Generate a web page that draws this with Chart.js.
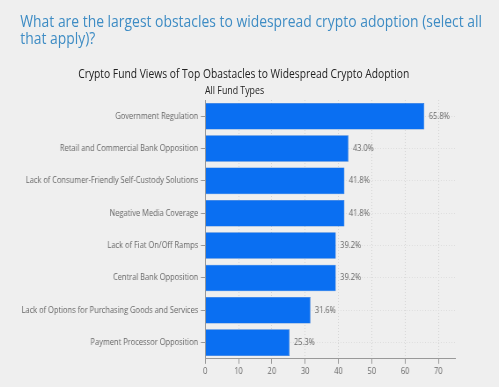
<!DOCTYPE html>
<html>
<head>
<meta charset="utf-8">
<script src="https://cdn.jsdelivr.net/npm/chart.js@4.4.0/dist/chart.umd.min.js"></script>
<style>
  html, body { margin: 0; padding: 0; background: #efefef; overflow: hidden; }
  /* the reference is squeezed horizontally, so draw wider and scale down */
  #wrap { position: relative; width: 567px; height: 387px; overflow: hidden; font-family: "Open Sans", sans-serif;
          transform: scaleX(0.88); transform-origin: 0 0; }
  #question { position: absolute; left: 23px; top: 13px; width: 530px; font-size: 15.8px; line-height: 17px; color: #3e8cc4; }
  #ctitle { position: absolute; left: 0; width: 554px; top: 65px; text-align: center; font-size: 11.7px; color: #222; }
  #csub { position: absolute; left: 233px; top: 83px; font-size: 10px; color: #222; }
  #chart { position: absolute; left: 0; top: 0; }
</style>
</head>
<body>
<div id="wrap">
  <canvas id="chart" width="567" height="387"></canvas>
  <div id="question">What are the largest obstacles to widespread crypto adoption (select all that apply)?</div>
  <div id="ctitle">Crypto Fund Views of Top Obastacles to Widespread Crypto Adoption</div>
  <div id="csub">All Fund Types</div>
</div>
<script>
const obstacles = [
  'Government Regulation',
  'Retail and Commercial Bank Opposition',
  'Lack of Consumer-Friendly Self-Custody Solutions',
  'Negative Media Coverage',
  'Lack of Fiat On/Off Ramps',
  'Central Bank Opposition',
  'Lack of Options for Purchasing Goods and Services',
  'Payment Processor Opposition'
];
const shares = [65.8, 43.0, 41.8, 41.8, 39.2, 39.2, 31.6, 25.3];
const xTicks = [0, 10, 20, 30, 40, 50, 60, 70];

// value labels at the end of each bar
const barLabels = {
  id: 'barLabels',
  afterDatasetsDraw(chart) {
    const ctx = chart.ctx;
    const meta = chart.getDatasetMeta(0);
    ctx.save();
    ctx.font = '8.5px "Open Sans"';
    ctx.fillStyle = '#666';
    ctx.textBaseline = 'middle';
    meta.data.forEach((bar, i) => {
      ctx.fillText(shares[i].toFixed(1) + '%', bar.x + 5, bar.y);
    });
    ctx.restore();
  }
};

const ctx = document.getElementById('chart').getContext('2d');
const chart = new Chart(ctx, {
  type: 'bar',
  data: {
    labels: obstacles,
    datasets: [{
      data: shares,
      backgroundColor: '#0a6ff2',
      borderColor: '#0a5fd0',
      borderWidth: 0.5,
      barPercentage: 0.82,
      categoryPercentage: 1.0
    }]
  },
  options: {
    indexAxis: 'y',
    responsive: false,
    animation: false,
    layout: { padding: { top: 100, left: 21.5, right: 50, bottom: 7 } },
    plugins: {
      legend: { display: false },
      tooltip: { enabled: false }
    },
    scales: {
      x: {
        min: 0,
        max: 75,
        afterBuildTicks: axis => { axis.ticks = xTicks.map(v => ({ value: v })); },
        ticks: { font: { family: 'Open Sans', size: 8.5 }, color: '#666', padding: 3 },
        grid: { color: '#d4d4d4', tickColor: '#999', tickLength: 5 },
        border: { color: '#999', dash: [1, 2] }
      },
      y: {
        ticks: { font: { family: 'Open Sans', size: 8.5 }, color: '#666', padding: 3 },
        grid: { offset: false, color: '#dcdcdc', tickColor: '#999', tickLength: 5 },
        border: { color: '#999', dash: [1, 2] }
      }
    }
  },
  plugins: [barLabels]
});
</script>
</body>
</html>
